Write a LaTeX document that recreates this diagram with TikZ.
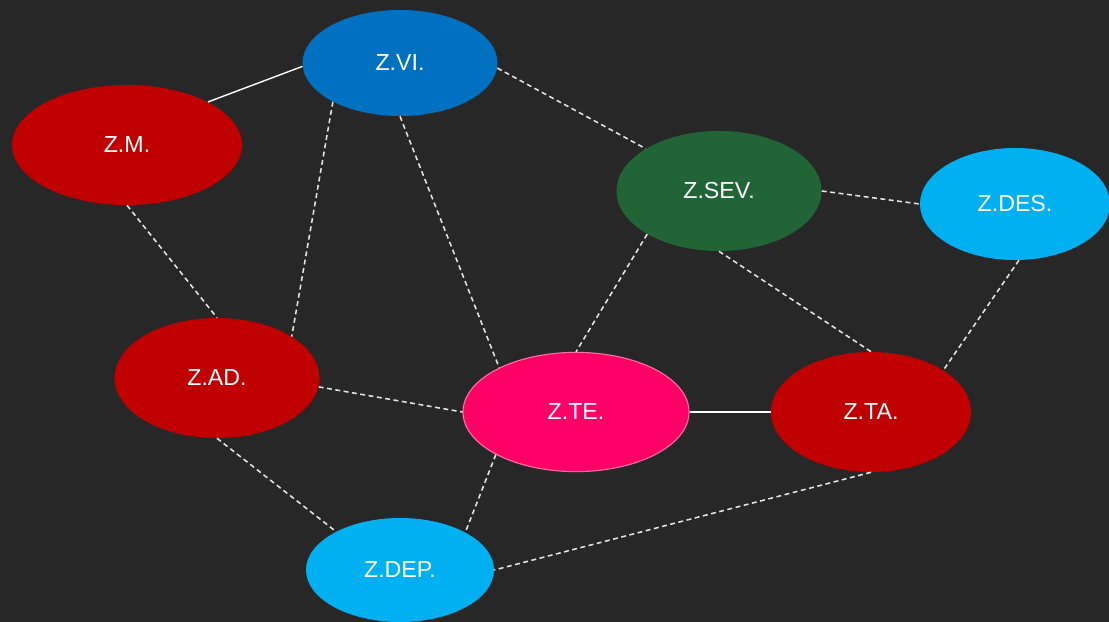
\documentclass[tikz,border=0pt]{standalone}
\usepackage{fontspec}
\setmainfont{Liberation Sans}
\usetikzlibrary{shapes.geometric}
\definecolor{bg}{HTML}{272727}
\definecolor{cred}{HTML}{C00000}
\definecolor{cblue}{HTML}{0070C0}
\definecolor{cgreen}{HTML}{216536}
\definecolor{clblue}{HTML}{00B0F0}
\definecolor{cpink}{HTML}{FF0066}
\definecolor{cpinkb}{HTML}{FF6FA3}
\tikzset{
  zone/.style={ellipse, inner sep=0pt, text=white, font=\fontsize{16.5}{19}\selectfont},
  solidlink/.style={draw=white, line width=1pt},
  dashlink/.style={draw=white!90!black, line width=1.1pt, dash pattern=on 3.5pt off 2.5pt},
}
\begin{document}
\begin{tikzpicture}[x=0.025cm, y=-0.025cm]
\fill[bg] (0,0) rectangle (1109,622);
\useasboundingbox (0,0) rectangle (1109,622);
\node[zone, fill=cblue, minimum width=4.875cm, minimum height=2.65cm] (vi) at (400,63) {Z.VI.};
\node[zone, fill=cred, minimum width=5.75cm, minimum height=3.0cm] (m) at (127,145) {Z.M.};
\node[zone, fill=cgreen, minimum width=5.125cm, minimum height=3.0cm] (sev) at (719,191) {Z.SEV.};
\node[zone, fill=clblue, minimum width=4.75cm, minimum height=2.8cm] (des) at (1015,204) {Z.DES.};
\node[zone, fill=cred, minimum width=5.125cm, minimum height=3.0cm] (ad) at (217,378) {Z.AD.};
\node[zone, fill=cpink, draw=cpinkb, line width=0.8pt, minimum width=5.65cm, minimum height=2.98cm] (te) at (576,412) {Z.TE.};
\node[zone, fill=cred, minimum width=5.0cm, minimum height=3.0cm] (ta) at (871,412) {Z.TA.};
\node[zone, fill=clblue, minimum width=4.7cm, minimum height=2.6cm] (dep) at (400,570) {Z.DEP.};
\draw[solidlink] (m.28.5) -- (vi.182);
\draw[dashlink] (vi.-3) -- (sev.150);
\draw[dashlink] (vi.210) -- (ad.29);
\draw[dashlink] (vi.-90) -- (te.150);
\draw[dashlink] (m.-90) -- (ad.90);
\draw[dashlink] (sev.0) -- (des.180);
\draw[dashlink] (sev.211) -- (te.90);
\draw[dashlink] (sev.-90) -- (ta.90);
\draw[dashlink] (des.-86) -- (ta.30);
\draw[dashlink] (ad.-5) -- (te.180);
\draw[solidlink] (te.0) -- (ta.180);
\draw[dashlink] (ad.-90) -- (dep.149);
\draw[dashlink] (te.208.6) -- (dep.30);
\draw[dashlink] (ta.-90) -- (dep.0);
\end{tikzpicture}
\end{document}
